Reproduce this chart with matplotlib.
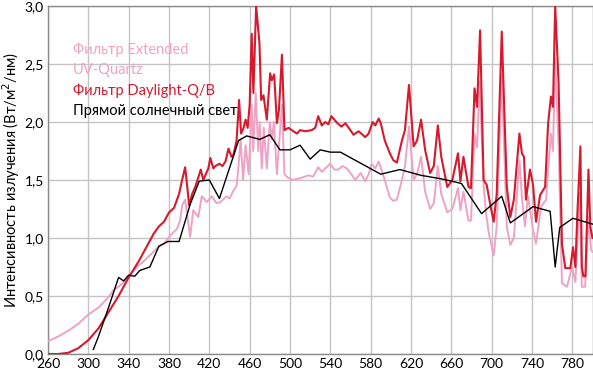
import matplotlib
matplotlib.use("Agg")
import matplotlib.pyplot as plt
import numpy as np

# Фильтр Daylight-Q/B
red_nm = [260, 270, 280, 290, 300, 310, 320, 330, 340, 350, 360, 365, 370, 375, 380, 385, 390, 393, 396,
          398, 400, 403, 406, 409, 411.5, 414, 416, 419, 421, 424, 426, 430, 433, 436, 439, 442, 444, 447,
          449.5, 451.5, 454, 456, 458, 460, 462, 463.7, 466.4, 469.7, 471.4, 473.7, 477, 480.3, 482, 484.3,
          487, 489, 492, 494.5, 498.5, 503.4, 507, 510, 515, 521.6, 525, 528, 531.5, 535, 538, 541, 547,
          551, 555, 559, 563, 568, 574.6, 578, 582, 584.5, 588, 590, 594, 599, 602.5, 606, 611, 614, 618,
          622.6, 626, 630, 634, 639, 642.6, 646.6, 650, 656, 661, 666.6, 669, 672, 677, 679.5, 683, 685.5,
          688.5, 692, 695, 699, 702, 705, 710, 715, 718.5, 722, 727.5, 730, 732, 734, 738, 741, 744, 748,
          753, 756, 758.8, 760.8, 763, 766.4, 769.7, 773, 778, 780.7, 783, 785, 788, 789.4, 791, 793, 796,
          797.8, 800]
red_val = [0.0, 0.0, 0.01, 0.05, 0.12, 0.22, 0.36, 0.50, 0.66, 0.80, 0.96, 1.04, 1.10, 1.14, 1.22, 1.26,
           1.38, 1.50, 1.61, 1.45, 1.28, 1.38, 1.44, 1.52, 1.59, 1.50, 1.54, 1.60, 1.69, 1.60, 1.62, 1.64,
           1.62, 1.66, 1.77, 1.70, 1.72, 1.84, 2.19, 1.90, 1.95, 2.02, 1.95, 2.15, 2.76, 2.25, 3.0, 2.68,
           2.19, 2.23, 2.02, 2.42, 2.36, 2.41, 1.99, 2.10, 2.58, 1.93, 1.95, 1.92, 1.90, 1.93, 1.92, 1.93,
           1.95, 2.05, 1.97, 2.00, 1.98, 2.05, 1.99, 1.96, 1.99, 1.94, 1.89, 1.92, 1.87, 1.90, 2.00, 1.97,
           2.03, 1.99, 1.84, 1.73, 1.67, 1.65, 1.84, 1.93, 2.32, 1.79, 1.84, 2.02, 1.76, 1.56, 1.62, 1.97,
           1.70, 1.44, 1.50, 1.73, 1.49, 1.70, 1.44, 1.43, 2.29, 2.13, 2.79, 1.50, 1.46, 1.27, 1.14, 1.38,
           2.78, 1.44, 1.18, 1.33, 1.90, 1.73, 1.70, 1.33, 1.59, 1.46, 1.14, 1.37, 1.44, 1.99, 2.22, 2.13,
           3.0, 2.33, 0.95, 0.74, 0.74, 0.92, 0.75, 1.21, 1.79, 0.75, 0.67, 0.67, 1.59, 1.10, 1.00]

# Фильтр Extended UV-Quartz
pink_nm = [260, 270, 280, 290, 300, 310, 320, 325, 330, 335, 340, 348, 355, 361, 369, 375, 381, 388, 391,
           393, 396, 398, 401, 404, 409, 412.5, 417.5, 422.5, 427, 431, 437, 440, 444, 447, 449, 451, 453.5,
           456, 459, 462, 463.5, 466, 468.5, 470, 472, 474, 477, 480, 482, 484, 487, 492, 494.5, 498, 503,
           507, 512, 518, 523, 528, 531.5, 535, 539.8, 544, 548, 552, 556.4, 560, 564.7, 570, 574.6, 578,
           581, 584.5, 588, 594, 599, 602.5, 606, 611, 614, 618, 622.6, 626, 630, 634, 639, 642.6, 646.6,
           650, 656, 661, 666.6, 669, 672, 677, 679.5, 683, 685.5, 688, 692, 694.6, 697, 702, 705, 710, 715,
           718.5, 722, 727.6, 730, 733, 736, 741, 744, 749, 754, 756, 758.8, 760.8, 763, 766.4, 769.7,
           774.7, 779.7, 783, 787.5, 789.4, 792.7, 796, 798.6, 800]
pink_val = [0.11, 0.15, 0.20, 0.26, 0.34, 0.40, 0.49, 0.55, 0.58, 0.62, 0.67, 0.75, 0.80, 0.85, 0.92, 0.95,
            1.02, 1.08, 1.15, 1.28, 1.33, 1.20, 1.01, 1.24, 1.18, 1.36, 1.31, 1.36, 1.30, 1.31, 1.36, 1.34,
            1.41, 1.45, 1.62, 1.85, 1.50, 1.80, 1.55, 2.15, 1.75, 2.25, 1.75, 2.00, 1.60, 1.95, 1.60, 2.00,
            1.85, 2.00, 1.55, 2.15, 1.55, 1.52, 1.50, 1.51, 1.52, 1.54, 1.53, 1.61, 1.57, 1.60, 1.64, 1.59,
            1.59, 1.62, 1.60, 1.56, 1.50, 1.56, 1.49, 1.55, 1.64, 1.60, 1.66, 1.50, 1.35, 1.32, 1.33, 1.50,
            1.62, 1.96, 1.50, 1.55, 1.70, 1.40, 1.25, 1.30, 1.62, 1.38, 1.22, 1.25, 1.43, 1.24, 1.40, 1.15,
            1.15, 1.90, 1.78, 2.35, 1.45, 1.20, 1.05, 0.85, 1.10, 2.40, 1.10, 0.94, 1.00, 1.67, 1.35, 1.10,
            1.36, 1.07, 0.95, 1.27, 1.33, 1.60, 1.90, 1.75, 2.55, 1.80, 0.61, 0.58, 0.75, 0.62, 1.39, 0.58,
            0.58, 1.18, 0.90, 0.88]

# Прямой солнечный свет
sun_nm = [305, 310, 320, 330, 335, 340, 346, 351, 361, 370, 379, 390, 401, 410, 420, 430, 449, 457, 470,
          480, 490, 500, 510, 520, 530, 540, 550, 590, 609, 630, 650, 670, 690, 710, 718.5, 741, 758, 763,
          767.5, 780.5, 800]
sun_val = [0.04, 0.15, 0.40, 0.66, 0.63, 0.68, 0.67, 0.72, 0.75, 0.93, 0.97, 0.97, 1.29, 1.49, 1.50, 1.34,
           1.84, 1.88, 1.85, 1.89, 1.76, 1.76, 1.80, 1.68, 1.76, 1.74, 1.74, 1.55, 1.59, 1.54, 1.51, 1.47,
           1.21, 1.36, 1.13, 1.27, 1.23, 0.75, 1.09, 1.17, 1.12]

x_ticks = list(range(260, 800, 40))
y_ticks = [0.0, 0.5, 1.0, 1.5, 2.0, 2.5, 3.0]
legend_lines = ["Фильтр Extended", "UV-Quartz", "Фильтр Daylight-Q/B", "Прямой солнечный свет"]

pink = "#eea3c4"
red = "#d7192e"

plt.rcParams["font.family"] = ["Lato", "DejaVu Sans"]

fig = plt.figure(figsize=(5.93, 3.72), dpi=100)
ax = fig.add_axes([48 / 593, 18 / 372, 544.5 / 593, 348 / 372])

ax.plot(pink_nm, pink_val, color=pink, lw=1.4, zorder=3)
ax.plot(red_nm, red_val, color=red, lw=1.5, zorder=4)
ax.plot(sun_nm, sun_val, color="black", lw=1.0, zorder=5)

ax.set_xlim(260, 800)
ax.set_ylim(0, 3.0)
ax.set_xticks(x_ticks)
ax.set_yticks(y_ticks)
ax.set_yticklabels([f"{v:.1f}".replace(".", ",") for v in y_ticks])
ax.tick_params(length=0, labelsize=10, pad=3)
ax.grid(True, color="#c4c4c4", lw=1.0, zorder=0)
for s in ax.spines.values():
    s.set_color("#8a8a8a")
    s.set_linewidth(1.0)

ax.set_ylabel("Интенсивность излучения (Вт/м$^2$/нм)", fontsize=10.5, labelpad=2)

# legend as plain coloured text
colors = [pink, pink, red, "black"]
for i, (txt, c) in enumerate(zip(legend_lines, colors)):
    fig.text(73 / 593, 1 - (50 + i * 20.3) / 372, txt, color=c, fontsize=10.5,
             va="center", ha="left")

fig.savefig("out.png", dpi=100)
